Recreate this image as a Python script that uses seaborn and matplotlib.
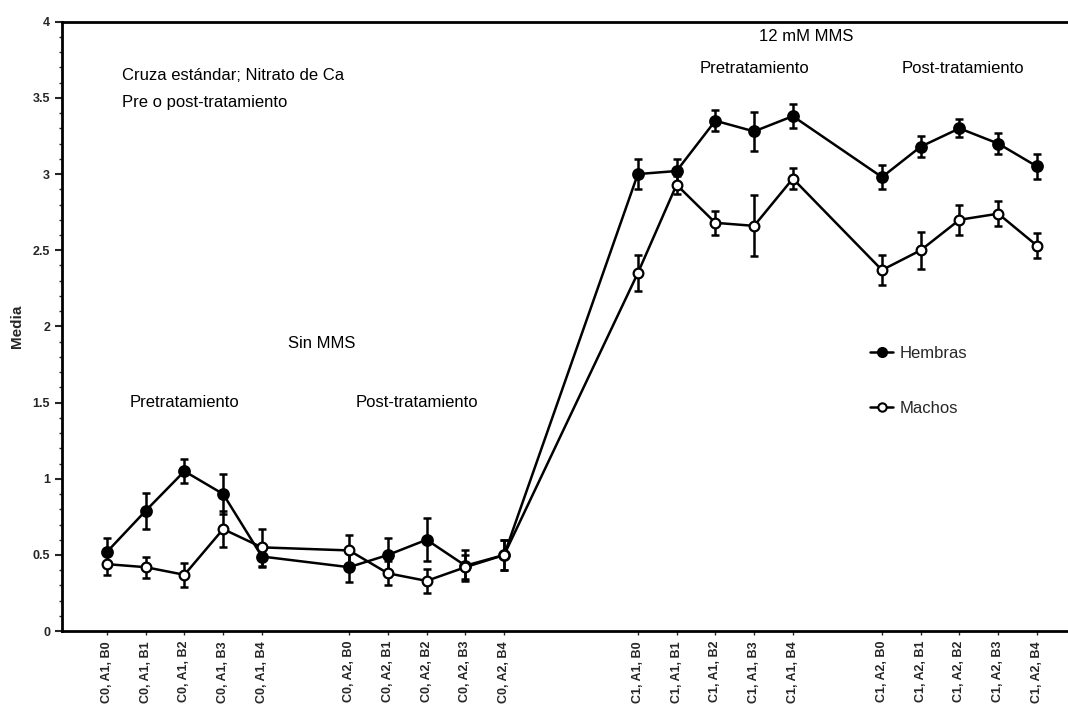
import numpy as np
import pandas as pd
import matplotlib
matplotlib.use("Agg")
import matplotlib.pyplot as plt
import seaborn as sns
from matplotlib.lines import Line2D

# ---- data ----
categories = [
    "C0, A1, B0", "C0, A1, B1", "C0, A1, B2", "C0, A1, B3", "C0, A1, B4",
    "C0, A2, B0", "C0, A2, B1", "C0, A2, B2", "C0, A2, B3", "C0, A2, B4",
    "C1, A1, B0", "C1, A1, B1", "C1, A1, B2", "C1, A1, B3", "C1, A1, B4",
    "C1, A2, B0", "C1, A2, B1", "C1, A2, B2", "C1, A2, B3", "C1, A2, B4",
]
hembras = [0.52, 0.79, 1.05, 0.90, 0.49,
           0.42, 0.50, 0.60, 0.43, 0.50,
           3.00, 3.02, 3.35, 3.28, 3.38,
           2.98, 3.18, 3.30, 3.20, 3.05]
hembras_err = [0.09, 0.12, 0.08, 0.13, 0.07,
               0.10, 0.11, 0.14, 0.10, 0.10,
               0.10, 0.08, 0.07, 0.13, 0.08,
               0.08, 0.07, 0.06, 0.07, 0.08]
machos = [0.44, 0.42, 0.37, 0.67, 0.55,
          0.53, 0.38, 0.33, 0.42, 0.50,
          2.35, 2.93, 2.68, 2.66, 2.97,
          2.37, 2.50, 2.70, 2.74, 2.53]
machos_err = [0.07, 0.07, 0.08, 0.12, 0.12,
              0.10, 0.08, 0.08, 0.08, 0.10,
              0.12, 0.06, 0.08, 0.20, 0.07,
              0.10, 0.12, 0.10, 0.08, 0.08]
series_names = ["Hembras", "Machos"]
y_ticks = [0, 0.5, 1, 1.5, 2, 2.5, 3, 3.5, 4]
y_ticklabels = ["0", "0.5", "1", "1.5", "2", "2.5", "3", "3.5", "4"]

# ---- layout: group offsets (positions of the 4 groups of 5) ----
group_starts = [0.0, 6.25, 13.7, 20.0]
positions = [g + i for g in group_starts for i in range(5)]

df = pd.DataFrame({
    "x": positions * 2,
    "Media": hembras + machos,
    "err": hembras_err + machos_err,
    "Sexo": [series_names[0]] * len(hembras) + [series_names[1]] * len(machos),
})

sns.set_theme(style="white")
plt.rcParams["font.family"] = ["Liberation Sans", "DejaVu Sans"]

fig = plt.figure(figsize=(10.68, 7.23), dpi=100)
ax = fig.add_axes([0.058, 0.127, 0.942, 0.843])

marker_style = {
    "Hembras": dict(markerfacecolor="black", markeredgecolor="black",
                    markersize=8, markeredgewidth=1.2),
    "Machos": dict(markerfacecolor="white", markeredgecolor="black",
                   markersize=7, markeredgewidth=1.6),
}

for name in series_names:
    sub = df[df["Sexo"] == name]
    ax.errorbar(sub["x"], sub["Media"], yerr=sub["err"], fmt="none",
                ecolor="black", elinewidth=1.8, capsize=3, capthick=1.8, zorder=2)
    sns.lineplot(data=sub, x="x", y="Media", color="black", marker="o",
                 linewidth=1.8, ax=ax, legend=False, zorder=3,
                 **marker_style[name])

ax.set_xlim(-1.16, 24.8)
ax.set_ylim(0, 4)
ax.set_xticks(positions)
ax.set_xticklabels(categories, rotation=90, fontsize=9, fontweight="bold")
ax.set_yticks(y_ticks)
ax.set_yticklabels(y_ticklabels, fontsize=9, fontweight="bold")
ax.set_yticks(np.arange(0, 4.01, 0.1), minor=True)
ax.tick_params(axis="y", which="major", direction="out", length=5, width=1.5, left=True)
ax.tick_params(axis="y", which="minor", direction="out", length=2.5, width=1.0, left=True)
ax.tick_params(axis="x", which="major", direction="out", length=3, width=1, bottom=True, pad=4)
ax.set_xlabel("")
ax.set_ylabel("Media", fontsize=11, fontweight="bold", labelpad=6)

for side in ["left", "bottom", "top"]:
    ax.spines[side].set_visible(True)
    ax.spines[side].set_color("black")
    ax.spines[side].set_linewidth(2)
ax.spines["right"].set_visible(False)

tkw = dict(fontsize=12, color="black", transform=ax.transData)
ax.text(0.4, 3.62, "Cruza estándar; Nitrato de Ca", **tkw)
ax.text(0.4, 3.44, "Pre o post-tratamiento", **tkw)
ax.text(18.05, 3.87, "12 mM MMS", ha="center", **tkw)
ax.text(16.7, 3.66, "Pretratamiento", ha="center", **tkw)
ax.text(22.1, 3.66, "Post-tratamiento", ha="center", **tkw)
ax.text(5.55, 1.86, "Sin MMS", ha="center", **tkw)
ax.text(2.0, 1.47, "Pretratamiento", ha="center", **tkw)
ax.text(8.0, 1.47, "Post-tratamiento", ha="center", **tkw)

handles = [
    Line2D([0], [0], color="black", lw=1.8, marker="o", markersize=7,
           markerfacecolor="black", markeredgecolor="black"),
    Line2D([0], [0], color="black", lw=1.8, marker="o", markersize=6,
           markerfacecolor="white", markeredgecolor="black", markeredgewidth=1.5),
]
ax.legend(handles, series_names, loc="upper left", bbox_to_anchor=(0.79, 0.49),
          frameon=False, fontsize=12, handlelength=1.4, handletextpad=0.4,
          labelspacing=2.4, borderpad=0.3)

fig.savefig("out.png", dpi=100)
